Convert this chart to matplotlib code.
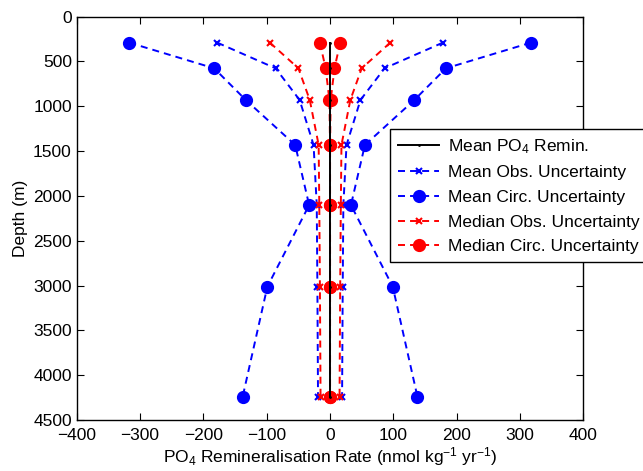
import numpy as np
import matplotlib
matplotlib.use("Agg")
from matplotlib import pyplot as plt

plt.rcParams['font.family'] = ['Liberation Sans', 'DejaVu Sans']
plt.rcParams['mathtext.fontset'] = 'custom'
plt.rcParams['mathtext.rm'] = 'Liberation Sans'
plt.rcParams['mathtext.it'] = 'Liberation Sans'

# depth levels (m) and remineralisation rates (nmol kg-1 yr-1)
depth = [290, 576, 930, 1432, 2102, 3013, 4241]
mean_remin = [0, 0, 0, 0, 0, 0, 0]
mean_obs = [178, 86, 48, 26, 21, 20, 19]
mean_circ = [317, 183, 133, 55, 33, 99, 138]
median_obs = [95, 50, 32, 18, 17, 16, 15]
median_circ = [16, 7, 1, 0, 0, 0, 0]

fig = plt.figure(figsize=(6.43, 4.71), dpi=100)
ax = fig.add_axes([0.1193, 0.1083, 0.7880, 0.8563])

d = np.array(depth)
m = np.array(mean_remin)
dash = (0, (3.6, 2.6))

series = [
    (mean_obs, 'b', 'x', 5, 'Mean Obs. Uncertainty'),
    (mean_circ, 'b', 'o', 8, 'Mean Circ. Uncertainty'),
    (median_obs, 'r', 'x', 5, 'Median Obs. Uncertainty'),
    (median_circ, 'r', 'o', 8, 'Median Circ. Uncertainty'),
]

handles = []
h0, = ax.plot(m, d, color='k', marker='.', markersize=2, lw=1.4,
              zorder=5, label='Mean PO$_4$ Remin.')
handles.append(h0)
for vals, c, mk, ms, lab in series:
    v = np.array(vals)
    h, = ax.plot(m - v, d, color=c, marker=mk, markersize=ms, mew=1.5,
                 lw=1.4, linestyle=dash, label=lab)
    ax.plot(m + v, d, color=c, marker=mk, markersize=ms, mew=1.5,
            lw=1.4, linestyle=dash)
    handles.append(h)

ax.set_xlim(-400, 400)
ax.set_ylim(4500, 0)
ax.set_xticks(np.arange(-400, 401, 100))
ax.set_yticks(np.arange(0, 4501, 500))
ax.tick_params(direction='in', top=True, right=True, labelsize=12.5,
               length=5, width=0.8)
ax.tick_params(axis='x', pad=6)
for s in ax.spines.values():
    s.set_linewidth(1.0)

ax.set_xlabel('PO$_4$ Remineralisation Rate (nmol kg$^{-1}$ yr$^{-1}$)',
              fontsize=12.5, labelpad=1)
ax.set_ylabel('Depth (m)', fontsize=12.5, labelpad=4)

leg = ax.legend(handles=handles, loc='upper left',
                bbox_to_anchor=(0.6065, 0.7261), bbox_transform=fig.transFigure,
                fontsize=12.5, fancybox=False, framealpha=1, edgecolor='k',
                handlelength=2.4, borderaxespad=0, labelspacing=0.55,
                handletextpad=0.5, borderpad=0.45)
leg.get_frame().set_linewidth(1.0)

fig.savefig('out.png', dpi=100)
